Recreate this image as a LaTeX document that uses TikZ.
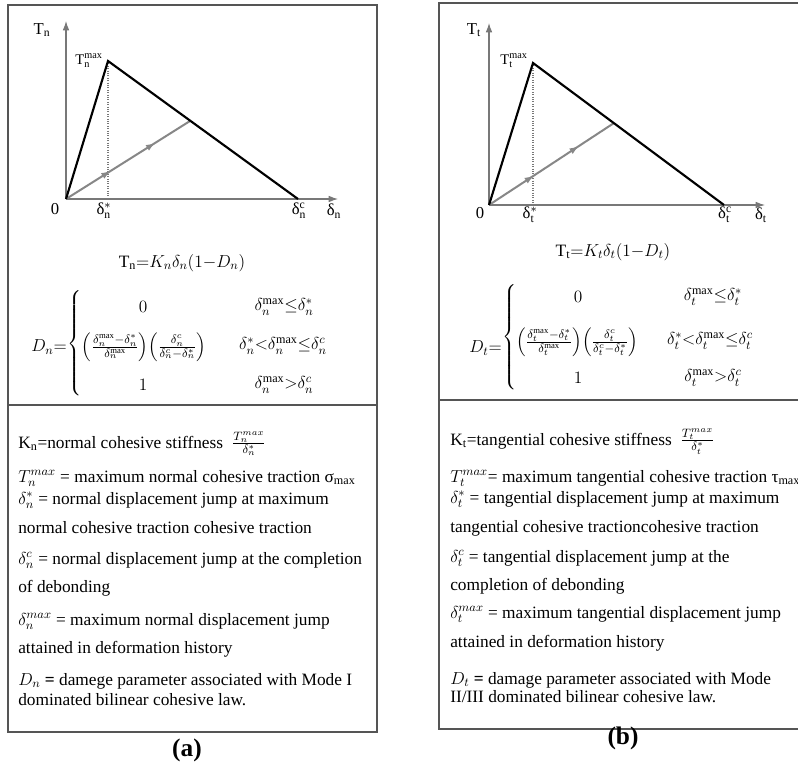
\RequirePackage{fix-cm}
\documentclass[tikz,border=0pt]{standalone}
\usepackage{amsmath}
\usepackage{fontspec}
\setmainfont{Liberation Serif}
\usetikzlibrary{arrows.meta,decorations.markings}
\definecolor{boxc}{RGB}{85,85,85}
\definecolor{axc}{RGB}{120,120,120}
\definecolor{grayline}{RGB}{135,135,135}
\tikzset{
  boxline/.style={draw=boxc, line width=1.2pt},
  axis/.style={draw=axc, line width=0.8pt, -{Latex[length=7pt,width=5pt]}},
  law/.style={draw=black, line width=1.6pt, line join=miter},
  loadpath/.style={draw=grayline, line width=1.5pt,
    postaction={decorate},
    decoration={markings,
      mark=at position 0.36 with {\arrow{Latex[length=7pt,width=5pt]}},
      mark=at position 0.72 with {\arrow{Latex[length=7pt,width=5pt]}}}},
  peakline/.style={draw=axc, line width=0.8pt, densely dotted},
  glabel/.style={font=\fontsize{12.5}{14}\selectfont, inner sep=0pt},
  gsmall/.style={font=\fontsize{11}{13}\selectfont, inner sep=0pt},
  eqn/.style={font=\fontsize{13}{15}\selectfont, inner sep=0pt},
  eqnfrac/.style={font=\fontsize{13}{15}\selectfont, inner sep=0pt},
  txt/.style={font=\fontsize{13}{15}\selectfont, anchor=base west, inner sep=0pt},
  captext/.style={font=\fontsize{19}{22}\selectfont\bfseries, inner sep=0pt}
}
\begin{document}
\begin{tikzpicture}[x=0.75pt,y=-0.75pt]
\useasboundingbox (0,0) rectangle (798,771);

% ---------- boxes ----------
\draw[boxline] (8,5) rectangle (377,732);
\draw[boxline] (8,405) -- (377,405);
\draw[boxline] (798,3) -- (439,3) -- (439,729) -- (798,729);
\draw[boxline] (439,400) -- (798,400);

% ---------- left graph ----------
\coordinate (aO) at (66,199);
\coordinate (aY) at (66,21);
\coordinate (aX) at (338,199);
\coordinate (aP) at (108,61);
\coordinate (aC) at (298,199);
\coordinate (aG) at (190,121);
\coordinate (aF) at (108,199);
\draw[axis] (aO) -- (aY);
\draw[axis] (aO) -- (aX);
\draw[peakline] (aP) -- (aF);
\draw[loadpath] (aO) -- (aG);
\draw[law] (aO) -- (aP) -- (aC);
\node[glabel] (aTn) at (42,30) {T\textsubscript{n}};
\node[gsmall] (aTmax) at (89,61) {T$^{\text{max}}_{\text{n}}$};
\node[glabel] (a0) at (55,209) {0};
\node[glabel] (adstar) at (104,211) {δ$^{*}_{\text{n}}$};
\node[glabel] (adc) at (299,211) {δ$^{\text{c}}_{\text{n}}$};
\node[glabel] (adn) at (334,211) {δ\textsubscript{n}};

% ---------- right graph ----------
\coordinate (bO) at (489,205);
\coordinate (bY) at (489,23);
\coordinate (bX) at (765,205);
\coordinate (bP) at (533,63);
\coordinate (bC) at (724,205);
\coordinate (bG) at (614,123);
\coordinate (bF) at (533,205);
\draw[axis] (bO) -- (bY);
\draw[axis] (bO) -- (bX);
\draw[peakline] (bP) -- (bF);
\draw[loadpath] (bO) -- (bG);
\draw[law] (bO) -- (bP) -- (bC);
\node[glabel] (bTt) at (474,30) {T\textsubscript{t}};
\node[gsmall] (bTmax) at (514,61) {T$^{\text{max}}_{\text{t}}$};
\node[glabel] (b0) at (480,213) {0};
\node[glabel] (bdstar) at (530,215) {δ$^{*}_{\text{t}}$};
\node[glabel] (bdc) at (725,215) {δ$^{\text{c}}_{\text{t}}$};
\node[glabel] (bdt) at (761,215) {δ\textsubscript{t}};

% ---------- left equations ----------
\node[eqn] (aeq) at (182,263) {$\mathrm{T_n}{=}K_n\delta_n(1{-}D_n)$};
\node[eqn, anchor=east] (aD) at (67,347) {$D_n{=}$};
\node[eqn, anchor=west] (abr) at (67,344) {$\left\{\vrule height 37pt depth 37pt width 0pt\right.$};
\node[eqn] (ar1) at (143,307) {$0$};
\node[eqnfrac] (ar2) at (144,347) {$\left(\frac{\delta_n^{\max}-\delta_n^*}{\delta_n^{\max}}\right)\!\left(\frac{\delta_n^{c}}{\delta_n^{c}-\delta_n^*}\right)$};
\node[eqn] (ar3) at (143,385) {$1$};
\node[eqn] (ac1) at (284,307) {$\delta_n^{\max}{\le}\delta_n^*$};
\node[eqn] (ac2) at (283,346) {$\delta_n^{*}{<}\delta_n^{\max}{\le}\delta_n^c$};
\node[eqn] (ac3) at (284,385) {$\delta_n^{\max}{>}\delta_n^c$};

% ---------- right equations ----------
\node[eqn] (beq) at (613,252) {$\mathrm{T_t}{=}K_t\delta_t(1{-}D_t)$};
\node[eqn, anchor=east] (bD) at (502,348) {$D_t{=}$};
\node[eqn, anchor=west] (bbr) at (502,337) {$\left\{\vrule height 36pt depth 36pt width 0pt\right.$};
\node[eqn] (br1) at (578,297) {$0$};
\node[eqnfrac] (br2) at (577,342) {$\left(\frac{\delta_t^{\max}-\delta_t^*}{\delta_t^{\max}}\right)\!\left(\frac{\delta_t^{c}}{\delta_t^{c}-\delta_t^*}\right)$};
\node[eqn] (br3) at (578,378) {$1$};
\node[eqn] (bc1) at (713,297) {$\delta_t^{\max}{\le}\delta_t^*$};
\node[eqn] (bc2) at (710,341) {$\delta_t^{*}{<}\delta_t^{\max}{\le}\delta_t^c$};
\node[eqn] (bc3) at (713,378) {$\delta_t^{\max}{>}\delta_t^c$};

% ---------- left text ----------
\node[txt] (al1) at (18,448) {K\textsubscript{n}=normal cohesive stiffness \ $\frac{T_n^{max}}{\delta_n^*}$};
\node[txt] (al2) at (18,482) {$T_n^{max}$ = maximum normal cohesive traction σ\textsubscript{max}};
\node[txt] (al3) at (18,504) {$\delta_n^*$ = normal displacement jump at maximum};
\node[txt] (al4) at (18,533) {normal cohesive traction cohesive traction};
\node[txt] (al5) at (18,564) {$\delta_n^c$ = normal displacement jump at the completion};
\node[txt] (al6) at (18,592) {of debonding};
\node[txt] (al7) at (18,625) {$\delta_n^{max}$ = maximum normal displacement jump};
\node[txt] (al8) at (18,653) {attained in deformation history};
\node[txt] (al9) at (18,685) {$D_n$ \textbf{=} damege parameter associated with Mode I};
\node[txt] (al10) at (18,705) {dominated bilinear cohesive law.};

% ---------- right text ----------
\node[txt] (bl1) at (450,445) {K\textsubscript{t}=tangential cohesive stiffness \ $\frac{T_t^{max}}{\delta_t^*}$};
\node[txt] (bl2) at (450,482) {$T_t^{max}$= maximum tangential cohesive traction τ\textsubscript{max}};
\node[txt] (bl3) at (450,503) {$\delta_t^*$ = tangential displacement jump at maximum};
\node[txt] (bl4) at (450,532) {tangential cohesive tractioncohesive traction};
\node[txt] (bl5) at (450,562) {$\delta_t^c$ = tangential displacement jump at the};
\node[txt] (bl6) at (450,590) {completion of debonding};
\node[txt] (bl7) at (450,618) {$\delta_t^{max}$ = maximum tangential displacement jump};
\node[txt] (bl8) at (450,647) {attained in deformation history};
\node[txt] (bl9) at (450,684) {$D_t$ \textbf{=} damage parameter associated with Mode};
\node[txt] (bl10) at (450,702) {II/III dominated bilinear cohesive law.};

% ---------- captions ----------
\node[captext] (capa) at (187,750) {(a)};
\node[captext] (capb) at (623,738) {(b)};
\end{tikzpicture}
\end{document}
